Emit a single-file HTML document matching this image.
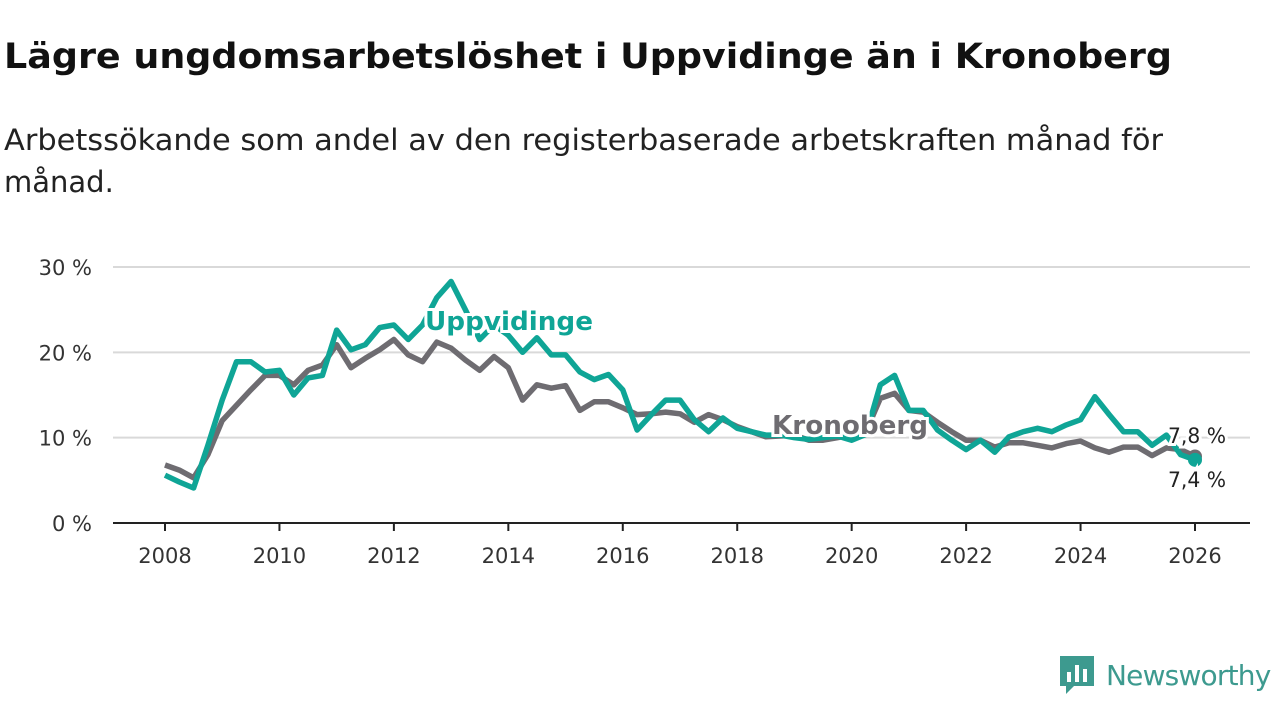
<!DOCTYPE html>
<html><head><meta charset="utf-8"><style>
body{margin:0;width:1280px;height:720px;background:#fff;font-family:"DejaVu Sans","Liberation Sans",sans-serif;overflow:hidden;position:relative}
svg{position:absolute;left:0;top:0}
</style></head><body>
<svg id="c" width="1280" height="720">
<text x="4" y="68" font-size="35" font-weight="bold" fill="#111" textLength="1168" lengthAdjust="spacingAndGlyphs">Lägre ungdomsarbetslöshet i Uppvidinge än i Kronoberg</text>
<text x="4" y="150" font-size="29" fill="#222" textLength="1159" lengthAdjust="spacingAndGlyphs">Arbetssökande som andel av den registerbaserade arbetskraften månad för</text>
<text x="4" y="192" font-size="29" fill="#222">månad.</text>
</svg>
<script>
const yTicks=[0,10,20,30];
const xTicks=[2008,2010,2012,2014,2016,2018,2020,2022,2024,2026];
const kronoberg=[6.8,6.2,5.3,8.0,12,13.8,15.6,17.3,17.3,16.2,17.9,18.5,20.9,18.2,19.3,20.3,21.5,19.7,18.9,21.2,20.5,19.1,17.9,19.5,18.2,14.4,16.2,15.8,16.1,13.2,14.2,14.2,13.5,12.7,12.8,13.0,12.8,11.8,12.7,12.1,11.3,10.7,10.1,10.2,10.3,9.7,9.7,10.0,10.3,10.7,14.6,15.2,13.2,13.0,11.8,10.7,9.7,9.7,8.9,9.4,9.4,9.1,8.8,9.3,9.6,8.8,8.3,8.9,8.9,7.9,8.8,8.6,7.8];
const uppvidinge=[5.6,4.8,4.1,9.1,14.4,18.9,18.9,17.7,17.9,15.0,17.0,17.3,22.6,20.3,20.9,22.9,23.2,21.5,23.2,26.4,28.3,25.0,21.5,23.2,22.0,20.0,21.7,19.7,19.7,17.7,16.8,17.4,15.6,10.9,12.7,14.4,14.4,12.1,10.7,12.3,11.1,10.7,10.3,10.3,10.0,9.8,10.0,10.2,9.7,10.4,16.2,17.3,13.2,13.2,10.9,9.7,8.6,9.7,8.3,10.1,10.7,11.1,10.7,11.5,12.1,14.8,12.7,10.7,10.7,9.1,10.3,8.0,7.4];
const startYear=2008, step=0.25;
const NS='http://www.w3.org/2000/svg';
const svg=document.getElementById('c');
const X=y=>165+(y-2008)*(1195-165)/18;
const Y=v=>523-v*(523-267)/30;
function el(t,a){const e=document.createElementNS(NS,t);for(const k in a)e.setAttribute(k,a[k]);svg.appendChild(e);return e;}
yTicks.forEach(v=>{
 if(v>0){const g=el('line',{x1:113,x2:1250,y1:Y(v),y2:Y(v),stroke:'#d9d9d9','stroke-width':2});
 
 }
 const t=el('text',{x:92,y:Y(v)+8,'text-anchor':'end','font-size':21,fill:'#333'});t.textContent=v+' %';
 
 
});
const ax=el('line',{x1:113,x2:1250,y1:523,y2:523,stroke:'#222','stroke-width':2});


xTicks.forEach(y=>{
 const tk=el('line',{x1:X(y),x2:X(y),y1:523,y2:531,stroke:'#222','stroke-width':2});
 
 
 const t=el('text',{x:X(y),y:563,'text-anchor':'middle','font-size':21,fill:'#333'});t.textContent=y;
 
 
});
function line(data,color,name){
 const d=data.map((v,i)=>(i?'L':'M')+X(startYear+i*step).toFixed(1)+','+Y(v).toFixed(1)).join('');
 const p=el('path',{d:d,fill:'none',stroke:color,'stroke-width':5.5,'stroke-linejoin':'round'});
 
 
 const n=data.length-1;
 const c=el('circle',{cx:X(startYear+n*step),cy:Y(data[n]),r:7,fill:color});
 
 
}
line(kronoberg,'#6e6c71','kronoberg-line');
line(uppvidinge,'#0fa596','uppvidinge-line');
function lab(x,y,txt,color,name,size,weight,len){
 const t=el('text',{x:x,y:y,'font-size':size,'font-weight':weight,fill:color,stroke:'#fff','stroke-width':6,'paint-order':'stroke',textLength:len,lengthAdjust:'spacingAndGlyphs'});
 t.textContent=txt;
 
 
}
lab(425,330,'Uppvidinge','#0fa596','uppvidinge-label',26,'bold',168);
lab(772,434,'Kronoberg','#6e6c71','kronoberg-label',26,'bold',156);
lab(1168,443,'7,8 %','#222','kronoberg-value-label',21,'normal',58);
lab(1168,487,'7,4 %','#222','uppvidinge-value-label',21,'normal',58);
</script>
<div style="position:absolute;left:1059px;top:655px;display:flex;align-items:center">
 <svg width="36" height="40" style="position:static" viewBox="0 0 36 40"><path d="M1 1h34v30H15l-8 8v-8H1z" fill="#3d9a8f"/><rect x="8" y="17" width="4" height="10" fill="#fff"/><rect x="16" y="10" width="4" height="17" fill="#fff"/><rect x="24" y="14" width="4" height="13" fill="#fff"/></svg>
 <span style="font-size:28px;color:#3d9a8f;margin-left:11px;font-family:'DejaVu Sans',sans-serif;letter-spacing:-0.8px">Newsworthy</span>
</div>
</body></html>
